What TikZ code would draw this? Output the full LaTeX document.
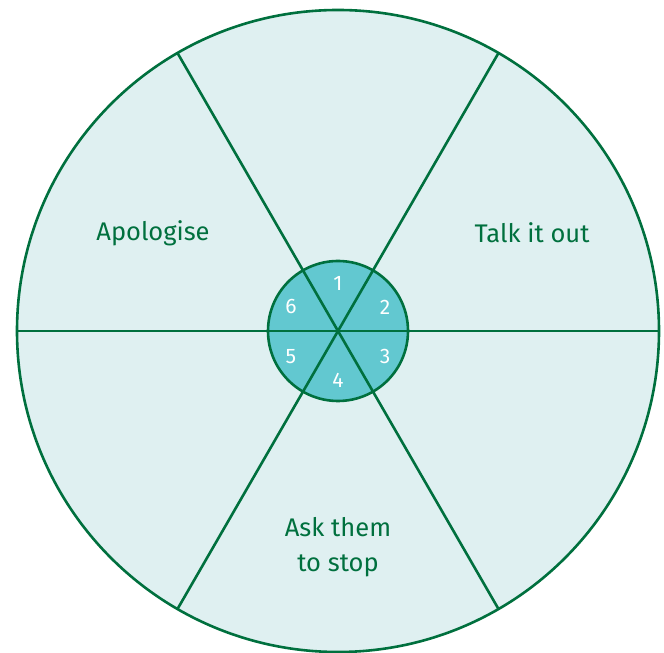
\documentclass[tikz,border=0pt]{standalone}
\usepackage{fontspec}
\setmainfont{Fira Sans}
\usetikzlibrary{positioning,calc}
\definecolor{wheelgreen}{RGB}{0,112,62}
\definecolor{wheelpale}{RGB}{223,240,241}
\definecolor{wheelteal}{RGB}{98,200,208}

\begin{document}
\begin{tikzpicture}[x=1pt,y=1pt,
    spoke/.style={draw=wheelgreen, line width=2.6pt},
    sector/.style={text=wheelgreen, font=\fontsize{25.5}{35}\selectfont, align=center},
    number/.style={text=white, font=\fontsize{21}{24}\selectfont}]
            \useasboundingbox (0,0) rectangle (664,653);

            % Wheel
            \node[circle, minimum size=642pt, inner sep=0pt, fill=wheelpale] (wheel) at (338,322) {};
            \coordinate (hub) at (wheel.center);

            % Spokes
            \foreach \a in {0,60,120} {
                \draw[spoke] (wheel.\a) -- (wheel.\a+180);
            }

            % Inner circle
            \node[circle, minimum size=140pt, inner sep=0pt, fill=wheelteal] (inner) at (hub) {};
            \foreach \a in {0,60,120} {
                \draw[spoke] (inner.\a) -- (inner.\a+180);
            }
            \draw[spoke] (wheel.center) circle (321pt);
            \draw[spoke] (inner.center) circle (70pt);

            % Numbers
            \foreach \n/\dx/\dy in {1/0/48, 2/47/24, 3/47/-26, 4/0/-49, 5/-47/-26, 6/-47/24} {
                \node[number] (n\n) at ($(hub)+(\dx,\dy)$) {\n};
            }

            % Labels
            \node[sector] (apologise) at ($(hub)+(-185,98)$) {Apologise};
            \node[sector] (talk) at ($(hub)+(194,98)$) {Talk it out};
            \node[sector] (stop) at ($(hub)+(0,-216)$) {Ask them\\to stop};
        \end{tikzpicture}
\end{document}
